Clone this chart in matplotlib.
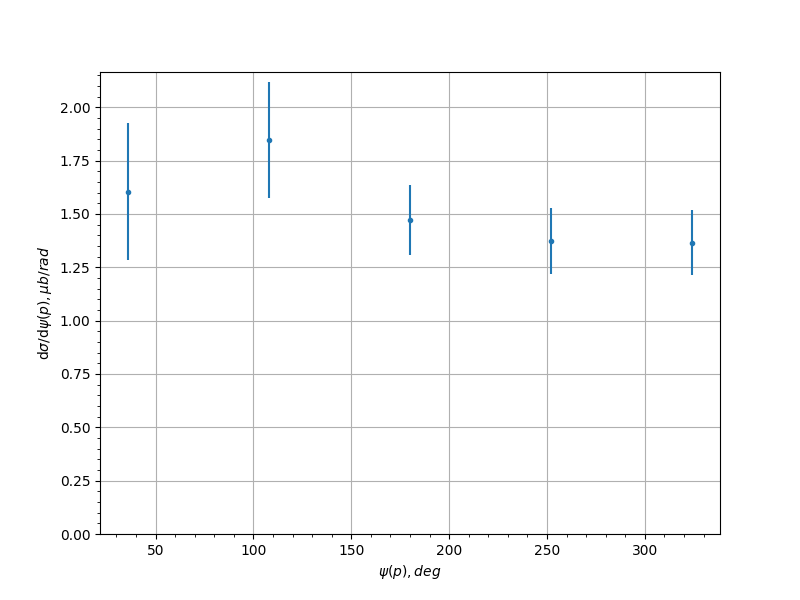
import numpy as np
import matplotlib
matplotlib.use('Agg')
import matplotlib.pyplot as plt

# Data
psi = [36, 108, 180, 252, 324]
xsec = [1.605, 1.848, 1.473, 1.373, 1.366]
xsec_err = [0.320, 0.272, 0.164, 0.154, 0.151]

fig, ax = plt.subplots(figsize=(8, 6), dpi=100)
ax.errorbar(psi, xsec, yerr=xsec_err, fmt='.')
ax.set_ylim(bottom=0)
ax.minorticks_on()
ax.grid(which='major')
ax.set_xlabel(r'$\psi(p), deg$')
ax.set_ylabel(r'$\mathrm{d}\sigma/\mathrm{d}\psi(p), \mu b/rad$')
fig.savefig('out.png')
